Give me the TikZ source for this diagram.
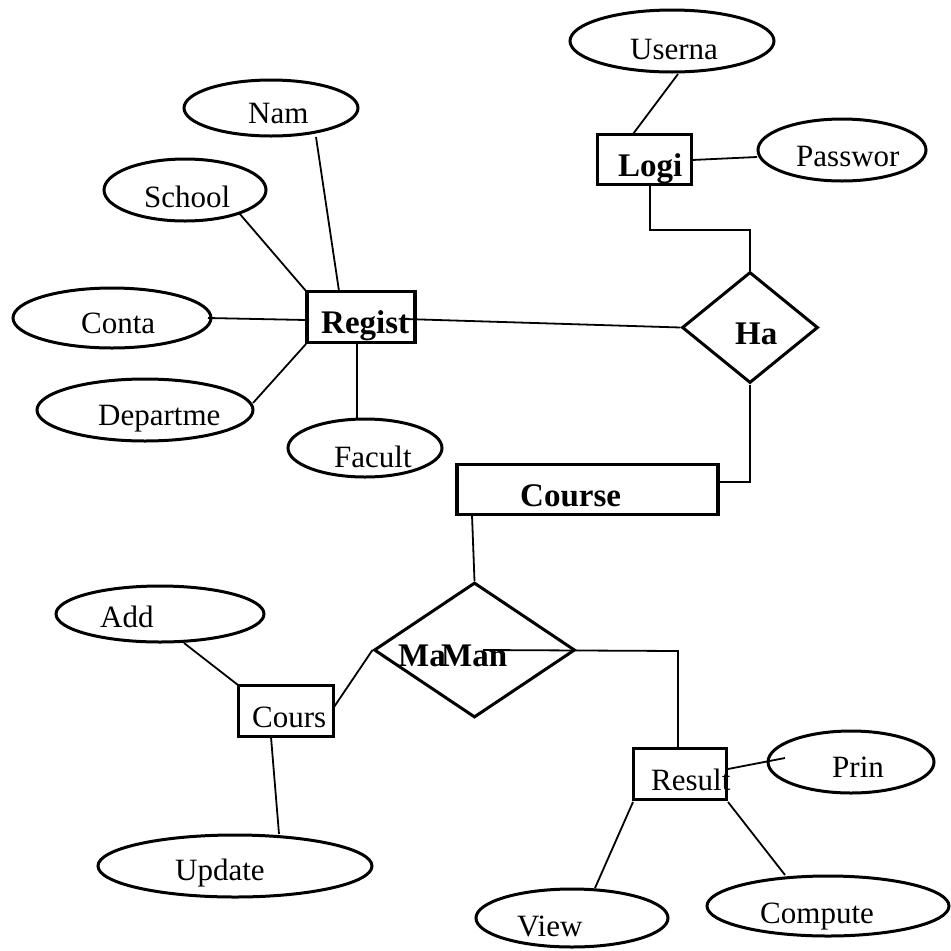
\documentclass[tikz,border=0pt]{standalone}
\usepackage{fontspec}
\setmainfont{Liberation Serif}
\usetikzlibrary{shapes.geometric}
\begin{document}
\begin{tikzpicture}[x=1pt,y=-1pt,
  attr/.style n args={2}{draw,ellipse,line width=3pt,inner sep=0pt,minimum width=#1pt,minimum height=#2pt},
  ent/.style n args={2}{draw,rectangle,line width=3.2pt,inner sep=0pt,minimum width=#1pt,minimum height=#2pt},
  rel/.style n args={2}{draw,diamond,line width=3pt,inner sep=0pt,minimum width=#1pt,minimum height=#2pt},
  conn/.style={line width=1.8pt},
  txt/.style={inner sep=0pt,anchor=base west,font=\fontsize{31}{31}\selectfont},
  btxt/.style={inner sep=0pt,anchor=base west,font=\fontsize{33}{33}\selectfont\bfseries}]
\useasboundingbox (0,0) rectangle (951,951);
% entities
\node[ent={94}{50}] (logi) at (644.5,159.5) {};
\node[ent={108}{51}] (regist) at (361,317) {};
\node[ent={261}{50}] (course) at (587.5,489.5) {};
\node[ent={95}{51}] (cours) at (286,711) {};
\node[ent={93}{51}] (result) at (680,774) {};
% relationships
\node[rel={136}{111}] (ha) at (750,327.5) {};
\node[rel={201}{135}] (maman) at (474.5,650) {};
% attributes
\node[attr={204}{62}] (userna) at (672,41) {};
\node[attr={168}{62}] (passwor) at (842,150) {};
\node[attr={174}{56}] (nam) at (271,108) {};
\node[attr={162}{62}] (school) at (185,190) {};
\node[attr={198}{60}] (conta) at (112,318) {};
\node[attr={216}{62}] (departme) at (145,410) {};
\node[attr={154}{58}] (facult) at (365,448) {};
\node[attr={208}{56}] (add) at (160,614) {};
\node[attr={274}{62}] (update) at (235,866) {};
\node[attr={166}{62}] (prin) at (851,762) {};
\node[attr={192}{58}] (view) at (572,918) {};
\node[attr={242}{60}] (compute) at (828,906) {};
% connector end points
\coordinate (c1a) at (678,74); \coordinate (c1b) at (633,134);
\coordinate (c2a) at (692,160); \coordinate (c2b) at (757,157);
\coordinate (c3a) at (650,185); \coordinate (c3b) at (650,230);
\coordinate (c4a) at (316,137); \coordinate (c4b) at (339,291);
\coordinate (c5a) at (239,213); \coordinate (c5b) at (306,291);
\coordinate (c6a) at (208,318); \coordinate (c6b) at (306,320);
\coordinate (c7a) at (253,403); \coordinate (c7b) at (306,344);
\coordinate (c8a) at (357,343); \coordinate (c8b) at (357,418);
\coordinate (c9a) at (405,319);
\coordinate (c10a) at (750,482);
\coordinate (c11a) at (472,515);
\coordinate (c12a) at (483,650); \coordinate (c12b) at (678,651);
\coordinate (c13a) at (334,707);
\coordinate (c14a) at (184,643); \coordinate (c14b) at (238,685);
\coordinate (c15a) at (271,737); \coordinate (c15b) at (279,834);
\coordinate (c16a) at (728,769); \coordinate (c16b) at (785,758);
\coordinate (c17a) at (633,802); \coordinate (c17b) at (595,888);
\coordinate (c18a) at (728,802); \coordinate (c18b) at (785,875);
% connectors
\draw[conn] (c1a) -- (c1b);
\draw[conn] (c2a) -- (c2b);
\draw[conn] (c3a) -- (c3b) -| (ha.north);
\draw[conn] (c4a) -- (c4b);
\draw[conn] (c5a) -- (c5b);
\draw[conn] (c6a) -- (c6b);
\draw[conn] (c7a) -- (c7b);
\draw[conn] (c8a) -- (c8b);
\draw[conn] (c9a) -- (ha.west);
\draw[conn] (ha.south) -- (c10a) -- (course.east |- c10a);
\draw[conn] (c11a) -- (maman.north);
\draw[conn] (c12a) -- (c12b) -- (c12b |- result.north);
\draw[conn] (c13a) -- (maman.west);
\draw[conn] (c14a) -- (c14b);
\draw[conn] (c15a) -- (c15b);
\draw[conn] (c16a) -- (c16b);
\draw[conn] (c17a) -- (c17b);
\draw[conn] (c18a) -- (c18b);
% texts
\node[txt] (tuserna) at (630,59) {Userna};
\node[btxt] (tlogi) at (618,176) {Logi};
\node[txt] (tpasswor) at (796,166) {Passwor};
\node[btxt] (tha) at (735,344) {Ha};
\node[txt] (tnam) at (248,123) {Nam};
\node[txt] (tschool) at (144,207) {School};
\node[txt] (tconta) at (81,333) {Conta};
\node[txt] (tdepartme) at (98,425) {Departme};
\node[txt] (tfacult) at (334,467) {Facult};
\node[btxt] (tregist) at (321,333) {Regist};
\node[btxt] (tcourse) at (520,506) {Course};
\node[btxt] (tma) at (398,666) {Ma};
\node[btxt] (tman) at (441,666) {Man};
\node[txt] (tadd) at (100,627) {Add};
\node[txt] (tcours) at (252,727) {Cours};
\node[txt] (tupdate) at (175,880) {Update};
\node[txt] (tresult) at (651,790) {Result};
\node[txt] (tprin) at (832,777) {Prin};
\node[txt] (tview) at (517,936) {View};
\node[txt] (tcompute) at (760,923) {Compute};
\end{tikzpicture}
\end{document}
